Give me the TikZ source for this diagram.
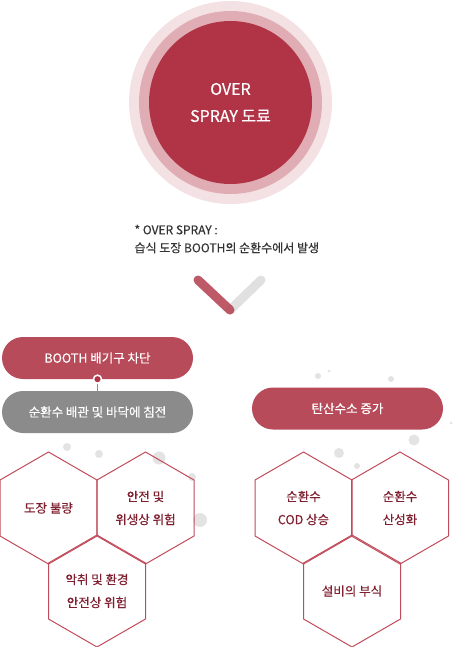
\documentclass[tikz,border=0pt]{standalone}
\usepackage{fontspec}
\setmainfont{Noto Sans CJK KR}[FakeBold=0.4]
\usetikzlibrary{shapes.geometric}
\definecolor{halo}{HTML}{F4E1E3}
\definecolor{ring}{HTML}{DFADB3}
\definecolor{wine}{HTML}{B13446}
\definecolor{pillred}{HTML}{B84B5A}
\definecolor{pillgray}{HTML}{8B8B8B}
\definecolor{hexline}{HTML}{C04B5B}
\definecolor{hextext}{HTML}{7F2030}
\definecolor{speckgray}{HTML}{E3E3E3}
\definecolor{chevgray}{HTML}{E0E0E0}

\begin{document}
\begin{tikzpicture}[x=1pt,y=-1pt,
	disc/.style={circle,inner sep=0pt},
	pill/.style={rounded corners=21pt,minimum width=191pt,minimum height=42pt,inner sep=0pt,text=white,font=\fontsize{12.5}{15}\selectfont},
	hexa/.style={regular polygon,regular polygon sides=6,shape border rotate=30,draw=hexline,line width=1pt,minimum size=112pt,inner sep=0pt,text=hextext,align=center,font=\fontsize{12.5}{23}\selectfont},
	joint/.style={circle,fill=wine,draw=white,line width=1.5pt,minimum size=8pt,inner sep=0pt},
	speck/.style={fill=speckgray}]
	\useasboundingbox (0,0) rectangle (452,647);

	% background specks
	\fill[speck] (67,447) circle (4);
	\fill[speck] (99,454) circle (4);
	\fill[speck] (159,458) circle (6.5);
	\fill[speck] (192,477) circle (4);
	\fill[speck] (200,520) circle (7);
	\fill[speck] (318,376) circle (3);
	\fill[speck] (329,371) circle (1.5);
	\fill[speck] (391,379) circle (3);
	\fill[speck] (414,440) circle (5.5);
	\fill[speck] (339,453) circle (5);
	\fill[speck] (357,466) circle (3);
	\fill[speck] (451,423) circle (1.5);

	% source
	\node[disc,fill=halo,minimum size=203pt] (halo) at (230.5,102.5) {};
	\node[disc,fill=ring,minimum size=183pt] (ring) at (halo) {};
	\node[disc,fill=wine,minimum size=163pt,text=white,align=center,font=\fontsize{16}{27}\selectfont] (core) at (halo) {OVER\\SPRAY 도료};

	\node[anchor=west,align=left,text=black!80,font=\fontsize{12}{18}\selectfont] (note) at (131,239) {* OVER SPRAY :\\습식 도장 BOOTH의 순환수에서 발생};

	% chevron
	\coordinate (chevL) at (198,280);
	\coordinate (chevM) at (230,310);
	\coordinate (chevR) at (261,280);
	\draw[chevgray,line width=9pt,line cap=round] (chevR) -- (chevM);
	\draw[pillred,opacity=0.92,line width=9pt,line cap=round] (chevL) -- (chevM);

	% left branch
	\node[pill,fill=pillred] (booth) at (97.5,358) {BOOTH 배기구 차단};
	\node[pill,fill=pillgray] (settle) at (97.5,412) {순환수 배관 및 바닥에 침전};
	\draw[pillgray] (booth.south) -- (settle.north);
	\node[joint] (knot) at (booth.south) {};

	\node[hexa] (defect) at (48.5,508) {도장 불량};
	\node[hexa] (hygiene) at (145.5,508) {안전 및\\위생상 위험};
	\node[hexa] (odor) at (97,591) {악취 및 환경\\안전상 위험};

	% right branch
	\node[pill,fill=pillred] (gas) at (347.5,408.5) {탄산수소 증가};

	\node[hexa] (cod) at (303.5,508) {순환수\\COD 상승};
	\node[hexa] (acid) at (400,508) {순환수\\산성화};
	\node[hexa] (rust) at (352,591) {설비의 부식};
\end{tikzpicture}
\end{document}
